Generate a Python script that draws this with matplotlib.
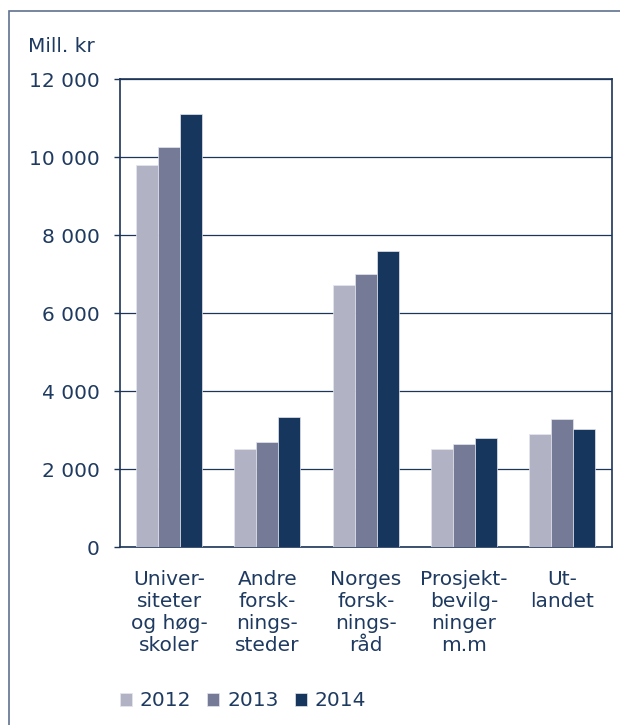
import numpy as np
import matplotlib
matplotlib.use("Agg")
import matplotlib.pyplot as plt
from matplotlib.patches import Rectangle

categories = ["Univer-\nsiteter\nog høg-\nskoler",
              "Andre\nforsk-\nnings-\nsteder",
              "Norges\nforsk-\nnings-\nråd",
              "Prosjekt-\nbevilg-\nninger\nm.m",
              "Ut-\nlandet"]
years = ["2012", "2013", "2014"]
v2012 = [9810, 2530, 6720, 2510, 2900]
v2013 = [10260, 2690, 7000, 2660, 3290]
v2014 = [11110, 3340, 7600, 2800, 3040]
yticks = [0, 2000, 4000, 6000, 8000, 10000, 12000]
ytick_labels = ["0", "2 000", "4 000", "6 000", "8 000", "10 000", "12 000"]

colors = ["#b1b3c4", "#757a97", "#17365d"]
navy = "#1d3557"
txt = "#1f3a60"
fs = 14.5

fig = plt.figure(figsize=(6.2, 7.25), dpi=100, facecolor="white")
ax = fig.add_axes([120 / 620, 1 - 547.3 / 725, 491.5 / 620, 468 / 725])

x = np.arange(len(categories))
w = 0.224
for i, (vals, yr) in enumerate(zip([v2012, v2013, v2014], years)):
    ax.bar(x + (i - 1) * w, vals, width=w, color=colors[i], label=yr,
           edgecolor="#e4e6ee", linewidth=0.5, zorder=3)

ax.set_xlim(-0.5, len(categories) - 0.5)
ax.set_ylim(0, 12000)
ax.set_yticks(yticks)
ax.set_yticklabels(ytick_labels)
ax.grid(axis="y", color=navy, lw=0.9, zorder=1)
ax.set_axisbelow(True)
for s in ax.spines.values():
    s.set_color(navy)
    s.set_linewidth(1.2)
ax.tick_params(axis="y", length=4.5, width=1.0, color=navy, pad=10,
               labelsize=fs, labelcolor=txt)
ax.set_xticks(x)
ax.set_xticklabels(categories, fontsize=fs, color=txt, linespacing=1.2,
                   va="top")
ax.tick_params(axis="x", length=0, pad=16)

fig.text(28 / 620, 1 - 47 / 725, "Mill. kr", fontsize=fs, color=txt,
         ha="left", va="center")

leg = fig.legend(loc="center left", bbox_to_anchor=(112 / 620, 1 - 701 / 725),
                 ncol=3, frameon=False, fontsize=fs, handlelength=0.6,
                 handleheight=0.6, handletextpad=0.38, columnspacing=0.8,
                 borderaxespad=0)
for t in leg.get_texts():
    t.set_color(txt)

fig.patches.append(Rectangle((8.5 / 620, -0.1), 1.2, 1.1 - 10.5 / 725,
                             transform=fig.transFigure, fill=False,
                             edgecolor="#5f7290", linewidth=1.2))

fig.savefig("out.png", dpi=100, facecolor="white")
